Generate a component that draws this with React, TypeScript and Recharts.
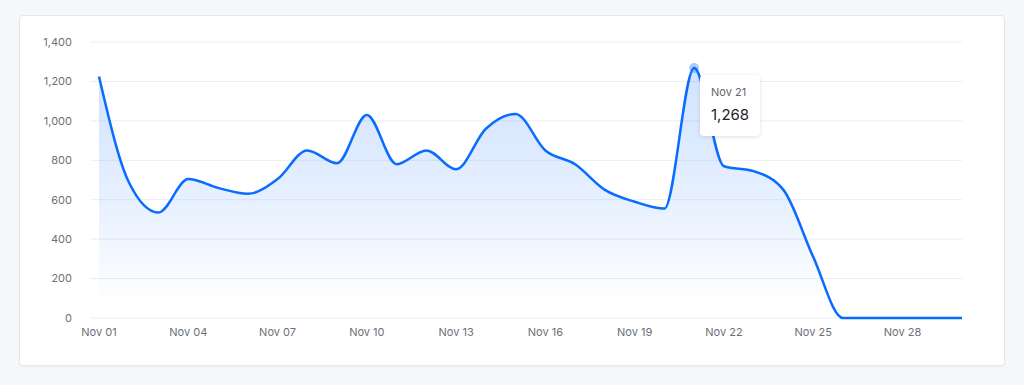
import React from "react";
import { AreaChart, Area, XAxis, YAxis, CartesianGrid, Tooltip } from "recharts";

const days = [
  "Nov 01", "Nov 02", "Nov 03", "Nov 04", "Nov 05", "Nov 06", "Nov 07", "Nov 08", "Nov 09", "Nov 10",
  "Nov 11", "Nov 12", "Nov 13", "Nov 14", "Nov 15", "Nov 16", "Nov 17", "Nov 18", "Nov 19", "Nov 20",
  "Nov 21", "Nov 22", "Nov 23", "Nov 24", "Nov 25", "Nov 26", "Nov 27", "Nov 28", "Nov 29", "Nov 30",
];
const values = [
  1225, 690, 535, 705, 660, 630, 705, 850, 785, 1030,
  780, 850, 755, 960, 1035, 850, 780, 650, 590, 555,
  1268, 770, 745, 650, 310, 0, 0, 0, 0, 0,
];
const yTicks = [0, 200, 400, 600, 800, 1000, 1200, 1400];

const data = days.map((d, i) => ({ day: d, value: values[i] }));

const FONT = "-apple-system, 'Inter', 'Helvetica Neue', Arial, sans-serif";

function TipContent({ active, payload, label }: any) {
  if (!active || !payload || !payload.length) return null;
  return (
    <div
      style={{
        background: "#fff",
        borderRadius: 4,
        boxShadow: "0 1px 4px rgba(0,0,0,0.12)",
        padding: "10px 11px 11px 11px",
        fontFamily: FONT,
        whiteSpace: "nowrap",
      }}
    >
      <div style={{ fontSize: 11, color: "#5f6670", lineHeight: "14px" }}>{label}</div>
      <div style={{ fontSize: 15, color: "#1f2329", lineHeight: "20px", marginTop: 6 }}>
        {Number(payload[0].value).toLocaleString("en-US")}
      </div>
    </div>
  );
}

export default function App() {
  return (
    <div style={{ position: "fixed", inset: 0, background: "#f6f7f9" }}>
      <div
        style={{
          position: "absolute",
          left: 19,
          top: 15,
          width: 984,
          height: 349,
          background: "#fff",
          border: "1px solid #e4e6ea",
          borderRadius: 4,
          boxShadow: "0 1px 2px rgba(0,0,0,0.04)",
        }}
      >
        <div style={{ position: "absolute", left: -1, top: -1 }}>
          <AreaChart
            width={986}
            height={351}
            data={data}
            margin={{ top: 27, right: 43, bottom: 18, left: 0 }}
          >
            <defs>
              <linearGradient id="fillGrad" x1="0" y1="0" x2="0" y2="1">
                <stop offset="0%" stopColor="#0a6cff" stopOpacity={0.32} />
                <stop offset="55%" stopColor="#0a6cff" stopOpacity={0.16} />
                <stop offset="95%" stopColor="#0a6cff" stopOpacity={0} />
              </linearGradient>
            </defs>
            <CartesianGrid vertical={false} stroke="#eceef1" />
            <XAxis
              dataKey="day"
              interval={2}
              axisLine={false}
              tickLine={false}
              tickSize={0}
              tickMargin={10}
              padding={{ left: 9, right: 0 }}
              tick={{ fontSize: 11, fill: "#6b7079", fontFamily: FONT }}
            />
            <YAxis
              domain={[0, 1400]}
              ticks={yTicks}
              width={71}
              axisLine={false}
              tickLine={false}
              tickSize={0}
              tickMargin={18}
              tickFormatter={(v: number) => v.toLocaleString("en-US")}
              tick={{ fontSize: 11, fill: "#6b7079", fontFamily: FONT }}
            />
            <Tooltip
              defaultIndex={20}
              active={true}
              cursor={false}
              isAnimationActive={false}
              position={{ x: 681, y: 60 }}
              content={<TipContent />}
              wrapperStyle={{ outline: "none" }}
            />
            <Area
              type="monotone"
              dataKey="value"
              stroke="#0a6cff"
              strokeWidth={2.5}
              fill="url(#fillGrad)"
              isAnimationActive={false}
              dot={false}
              activeDot={{ r: 5, fill: "rgba(10,108,255,0.35)", stroke: "none" }}
            />
          </AreaChart>
        </div>
      </div>
    </div>
  );
}
